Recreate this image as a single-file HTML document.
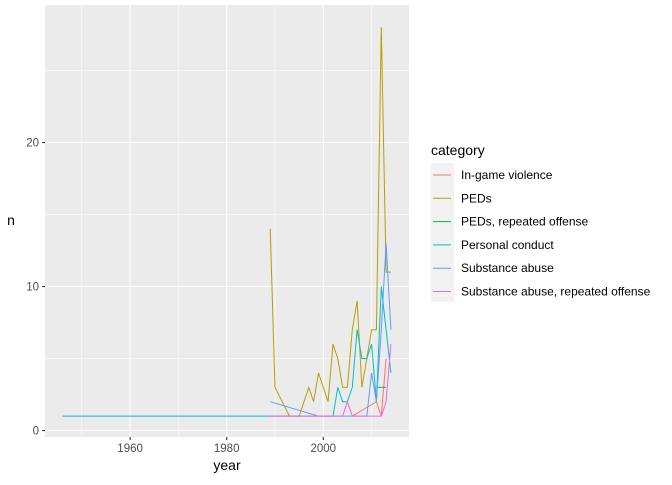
<!DOCTYPE html>
<html><head><meta charset="utf-8"><style>
body{margin:0;background:#fff;font-family:"Liberation Sans",sans-serif}
svg text{font-family:"Liberation Sans",sans-serif}
</style></head><body>
<svg id="chart" width="672" height="480" xmlns="http://www.w3.org/2000/svg">
<rect x="45" y="5" width="364" height="432" fill="#ebebeb"/>
<g id="grid"></g><g id="lines"></g><g id="axes"></g><g id="legend"></g>
</svg>
<script>
const seriesNames=["In-game violence","PEDs","PEDs, repeated offense","Personal conduct","Substance abuse","Substance abuse, repeated offense"];
const seriesColors=["#F8766D","#B79F00","#00BA38","#00BFC4","#619CFF","#F564E3"];
const yearsViolence=[2006,2011,2012,2013];
const nViolence=[1,2,1,5];
const yearsPEDs=[1989,1990,1993,1995,1997,1998,1999,2001,2002,2003,2004,2005,2006,2007,2008,2009,2010,2011,2012,2013,2014];
const nPEDs=[14,3,1,1,3,2,4,2,6,5,3,3,7,9,3,5,7,7,28,11,11];
const yearsPEDsRep=[2011,2013];
const nPEDsRep=[3,3];
const yearsConduct=[1946,2002,2003,2004,2005,2006,2007,2008,2009,2010,2011,2012,2013,2014];
const nConduct=[1,1,3,2,2,3,7,5,5,6,2,10,7,4];
const yearsSubstance=[1989,1999,2009,2010,2011,2012,2013,2014];
const nSubstance=[2,1,1,4,2,7,13,7];
const yearsSubRep=[1989,2004,2005,2006,2012,2013,2014];
const nSubRep=[1,1,2,1,1,2,6];
const xTicks=[1960,1980,2000];
const yTicks=[0,10,20];
const allYears=[yearsViolence,yearsPEDs,yearsPEDsRep,yearsConduct,yearsSubstance,yearsSubRep];
const allN=[nViolence,nPEDs,nPEDsRep,nConduct,nSubstance,nSubRep];

const NS="http://www.w3.org/2000/svg";
const L=45,R=409,T=5,B=437;
const xs=y=>323.3+(y-2000)*4.83;
const ys=n=>430.5-n*14.4;
function mk(tag,attrs,parent){const e=document.createElementNS(NS,tag);for(const k in attrs)e.setAttribute(k,attrs[k]);parent.appendChild(e);return e;}
const grid=document.getElementById('grid'),lines=document.getElementById('lines'),axes=document.getElementById('axes'),legend=document.getElementById('legend');
for(let i=0;i<xTicks.length;i++){const m=xTicks[i]-10;const g=mk('line',{x1:xs(m),x2:xs(m),y1:T,y2:B,stroke:'#fff','stroke-width':0.5},grid);}
{const m=xTicks[xTicks.length-1]+10;const g=mk('line',{x1:xs(m),x2:xs(m),y1:T,y2:B,stroke:'#fff','stroke-width':0.5},grid);}
for(let i=0;i<yTicks.length;i++){const m=yTicks[i]+5;const g=mk('line',{x1:L,x2:R,y1:ys(m),y2:ys(m),stroke:'#fff','stroke-width':0.5},grid);}
xTicks.forEach(t=>{const g=mk('line',{x1:xs(t),x2:xs(t),y1:T,y2:B,stroke:'#fff','stroke-width':1.1},grid);
 const tk=mk('line',{x1:xs(t),x2:xs(t),y1:B,y2:B+3,stroke:'#333','stroke-width':1.1},axes);
 const tx=mk('text',{x:xs(t),y:B+15,'text-anchor':'middle','font-size':11.5,fill:'#4d4d4d'},axes);tx.textContent=t;});
yTicks.forEach(t=>{const g=mk('line',{x1:L,x2:R,y1:ys(t),y2:ys(t),stroke:'#fff','stroke-width':1.1},grid);
 const tk=mk('line',{x1:L-3,x2:L,y1:ys(t),y2:ys(t),stroke:'#333','stroke-width':1.1},axes);
 const tx=mk('text',{x:L-6,y:ys(t)+4,'text-anchor':'end','font-size':11.5,fill:'#4d4d4d'},axes);tx.textContent=t;});
const xt=mk('text',{x:(L+R)/2,y:470,'text-anchor':'middle','font-size':14,fill:'#000'},axes);xt.textContent='year';


const yt=mk('text',{x:11,y:225,'text-anchor':'middle','font-size':14,fill:'#000'},axes);yt.textContent='n';


allYears.forEach((yrs,i)=>{const pts=yrs.map((y,j)=>xs(y).toFixed(1)+','+ys(allN[i][j]).toFixed(1)).join(' ');
 const p=mk('polyline',{points:pts,fill:'none',stroke:seriesColors[i],'stroke-width':1},lines);
 
 });
const lt=mk('text',{x:431,y:155,'font-size':14,fill:'#000'},legend);lt.textContent='category';


mk('rect',{x:431,y:163,width:23,height:139,fill:'#f2f2f2'},legend);
seriesNames.forEach((nm,i)=>{const cy=175+i*23.3;
 const g=mk('g',{},legend);
 
 
 mk('line',{x1:433,x2:451,y1:cy,y2:cy,stroke:seriesColors[i],'stroke-width':1},g);
 const t=mk('text',{x:461,y:cy+4,'font-size':12,fill:'#000'},g);t.textContent=nm;});
</script>
</body></html>
